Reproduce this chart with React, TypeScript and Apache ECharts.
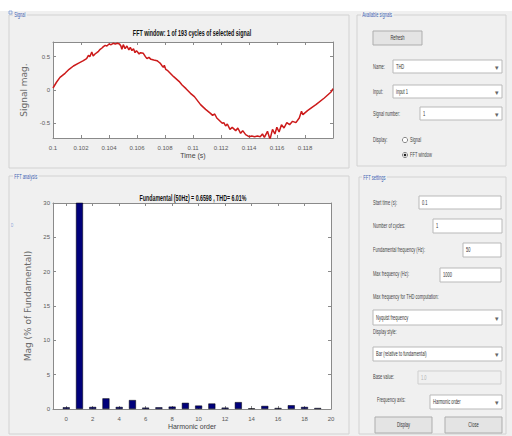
import React, { useEffect, useRef } from "react";
import * as echarts from "echarts";

// ---- data ----
const signalTime = [
  0.1, 0.10026, 0.1005, 0.10086, 0.10115, 0.10146, 0.1018, 0.10217, 0.1024, 0.10253,
  0.10263, 0.10277, 0.10287, 0.103, 0.10313, 0.10325, 0.10337, 0.1035, 0.1036, 0.10373,
  0.10385, 0.104, 0.10415, 0.1043, 0.10445, 0.1046, 0.10475, 0.10485, 0.10492, 0.10502,
  0.10515, 0.10528, 0.10542, 0.10552, 0.10564, 0.10575, 0.10586, 0.10596, 0.10604, 0.10615,
  0.10625, 0.10645, 0.1066, 0.10671, 0.10685, 0.107, 0.1072, 0.10743, 0.10755, 0.10767,
  0.1078, 0.10788, 0.10795, 0.10805, 0.1082, 0.10862, 0.109, 0.10922, 0.1095, 0.10982,
  0.1101, 0.11054, 0.1109, 0.11125, 0.1114, 0.11155, 0.1117, 0.11185, 0.11209, 0.1122,
  0.11233, 0.11245, 0.11264, 0.1128, 0.11305, 0.1132, 0.1134, 0.11355, 0.11376, 0.114,
  0.1142, 0.1144, 0.1146, 0.1148, 0.11496, 0.1151, 0.11532, 0.1155, 0.11568, 0.11585,
  0.11599, 0.11615, 0.11632, 0.1165, 0.1167, 0.1169, 0.11711, 0.11735, 0.11759, 0.11775,
  0.11785, 0.11818, 0.1185, 0.11878, 0.11938, 0.11986, 0.12,
];
const signalMag = [
  0.03, 0.12, 0.19, 0.25, 0.31, 0.36, 0.4, 0.44, 0.47, 0.52,
  0.5, 0.57, 0.51, 0.54, 0.56, 0.58, 0.61, 0.63, 0.65, 0.67,
  0.66, 0.69, 0.68, 0.7, 0.69, 0.7, 0.69, 0.66, 0.61, 0.68,
  0.62, 0.66, 0.6, 0.64, 0.59, 0.62, 0.56, 0.59, 0.57, 0.54,
  0.56, 0.55, 0.5, 0.47, 0.49, 0.46, 0.45, 0.44, 0.42, 0.4,
  0.36, 0.34, 0.37, 0.31, 0.29, 0.2, 0.13, 0.075, 0.02, -0.05,
  -0.1, -0.22, -0.29, -0.35, -0.38, -0.36, -0.42, -0.45, -0.5, -0.49,
  -0.54, -0.51, -0.59, -0.56, -0.61, -0.57, -0.65, -0.61, -0.67, -0.7,
  -0.69, -0.7, -0.69, -0.7, -0.66, -0.71, -0.62, -0.74, -0.59, -0.66,
  -0.56, -0.63, -0.52, -0.57, -0.49, -0.52, -0.47, -0.49, -0.42, -0.32,
  -0.37, -0.31, -0.26, -0.22, -0.12, -0.03, 0.02,
];
const harmonicOrder = [0, 1, 2, 3, 4, 5, 6, 7, 8, 9, 10, 11, 12, 13, 14, 15, 16, 17, 18, 19];
const harmonicMag = [0.25, 100, 0.3, 1.55, 0.3, 1.3, 0.2, 0.25, 0.35, 0.9, 0.5, 0.8, 0.2, 1.0, 0.1, 0.45, 0.15, 0.55, 0.3, 0.15];
const timeTicks = [0.1, 0.102, 0.104, 0.106, 0.108, 0.11, 0.112, 0.114, 0.116, 0.118, 0.12];
const timeLabels = [0.1, 0.102, 0.104, 0.106, 0.108, 0.11, 0.112, 0.114, 0.116, 0.118];
const signalTicks = [-0.5, 0, 0.5];
const harmonicTicks = [0, 2, 4, 6, 8, 10, 12, 14, 16, 18, 20];

const topTitle = "FFT window: 1 of 193 cycles of selected signal";
const bottomTitle = "Fundamental (50Hz) = 0.6598 , THD= 6.01%";

const SANS = "'Liberation Sans',Arial,sans-serif";
const AXIS_COLOR = "#8a8a8a";
const TICK_COLOR = "#5a5a5a";

function txt(x: number, y: number, text: string, o: any = {}) {
  const align = o.align ?? "left";
  return {
    type: "text",
    x,
    y,
    scaleX: o.scaleX ?? 0.62,
    z: 20,
    silent: true,
    style: {
      text,
      fontSize: o.size ?? 6.5,
      fontFamily: o.family ?? SANS,
      fontWeight: o.weight ?? "normal",
      fill: o.color ?? "#444",
      align,
      verticalAlign: "middle",
      textAlign: align,
      textVerticalAlign: "middle",
      backgroundColor: o.bg,
      padding: o.bg ? [0, 2] : undefined,
    },
  };
}
function box(x: number, y: number, w: number, h: number, o: any = {}) {
  return {
    type: "rect",
    z: 10,
    silent: true,
    shape: { x, y, width: w, height: h, r: o.r ?? 0 },
    style: { fill: o.fill ?? "#fff", stroke: o.stroke ?? "#b9b9b9", lineWidth: o.lw ?? 1 },
  };
}
function dropdown(x: number, y: number, w: number, h: number, value: string) {
  return [
    box(x, y, w, h),
    txt(x + 3, y + h / 2, value, { color: "#333" }),
    txt(x + w - 5, y + h / 2 + 0.5, "▾", { color: "#666", size: 7, scaleX: 1, align: "center" }),
  ];
}
function button(x: number, y: number, w: number, h: number, label: string) {
  return [
    box(x, y, w, h, { fill: "#e4e4e4", stroke: "#adadad" }),
    txt(x + w / 2, y + h / 2, label, { color: "#333", align: "center" }),
  ];
}

function buildGraphics() {
  const g: any[] = [];
  g.push({ type: "rect", z: 1, silent: true, shape: { x: 0, y: 0, width: 512, height: 11 }, style: { fill: "#fff" } });
  // panels
  g.push(box(9, 15, 340, 153, { fill: "transparent", stroke: "#d2d2d2" }));
  g.push(box(9, 176, 340, 258, { fill: "transparent", stroke: "#d2d2d2" }));
  g.push(box(357, 15, 149, 151, { fill: "transparent", stroke: "#d2d2d2" }));
  g.push(box(359, 177, 147, 257, { fill: "transparent", stroke: "#d2d2d2" }));
  g.push({ type: "rect", z: 21, silent: true, shape: { x: 9, y: 11, width: 3, height: 3 }, style: { fill: "none", stroke: "#6f8fd0", lineWidth: 0.7 } });
  g.push(txt(13, 15, "Signal", { color: "#3b5fb0", bg: "#f0f0f0" }));
  g.push(txt(13, 177, "FFT analysis", { color: "#3b5fb0", bg: "#f0f0f0" }));
  g.push(txt(361, 15, "Available signals", { color: "#3b5fb0", bg: "#f0f0f0" }));
  g.push(txt(362, 178, "FFT settings", { color: "#3b5fb0", bg: "#f0f0f0" }));
  g.push(txt(11, 225, "D", { color: "#8aa4d8", size: 5 }));

  // chart titles
  g.push(txt(192, 34, topTitle, { size: 8.5, weight: "bold", color: "#111", align: "center", scaleX: 0.63 }));
  g.push(txt(193, 198, bottomTitle, { size: 8.5, weight: "bold", color: "#111", align: "center", scaleX: 0.62 }));

  // Available signals
  g.push(...button(373, 31, 49, 14, "Refresh"));
  g.push(txt(373, 67, "Name:"));
  g.push(...dropdown(393, 60, 109, 13, "THD"));
  g.push(txt(373, 92, "Input:"));
  g.push(...dropdown(393, 85, 109, 13, "input 1"));
  g.push(txt(373, 114, "Signal number:"));
  g.push(...dropdown(420, 107, 82, 13, "1"));
  g.push(txt(373, 140, "Display:"));
  g.push({ type: "circle", z: 10, silent: true, shape: { cx: 405, cy: 140, r: 2.6 }, style: { fill: "#fff", stroke: "#888" } });
  g.push(txt(410, 140, "Signal"));
  g.push({ type: "circle", z: 10, silent: true, shape: { cx: 405, cy: 155, r: 2.6 }, style: { fill: "#fff", stroke: "#888" } });
  g.push({ type: "circle", z: 11, silent: true, shape: { cx: 405, cy: 155, r: 1.3 }, style: { fill: "#222" } });
  g.push(txt(410, 155, "FFT window"));

  // FFT settings
  g.push(txt(373, 203, "Start time (s):"));
  g.push(box(419, 196, 82, 13));
  g.push(txt(422, 202.5, "0.1", { color: "#333" }));
  g.push(txt(373, 226, "Number of cycles:"));
  g.push(box(433, 219, 69, 14));
  g.push(txt(436, 226, "1", { color: "#333" }));
  g.push(txt(373, 250, "Fundamental frequency (Hz):"));
  g.push(box(463, 243, 38, 14));
  g.push(txt(466, 250, "50", { color: "#333" }));
  g.push(txt(373, 274, "Max frequency (Hz):"));
  g.push(box(440, 268, 61, 14));
  g.push(txt(443, 275, "1000", { color: "#333" }));
  g.push(txt(373, 297, "Max frequency for THD computation:"));
  g.push(...dropdown(373, 310, 129, 15, "Nyquist frequency"));
  g.push(txt(373, 332, "Display style:"));
  g.push(...dropdown(373, 347, 129, 14, "Bar (relative to fundamental)"));
  g.push(txt(373, 377, "Base value:"));
  g.push(box(418, 371, 83, 13, { fill: "#f0f0f0", stroke: "#cfcfcf" }));
  g.push(txt(421, 377.5, "1.0", { color: "#b0b0b0" }));
  g.push(txt(377, 400, "Frequency axis:"));
  g.push(...dropdown(430, 395, 72, 14, "Harmonic order"));
  g.push(...button(375, 417, 57, 16, "Display"));
  g.push(...button(445, 417, 57, 16, "Close"));
  return g;
}

const tickLabel = { fontSize: 6, color: TICK_COLOR, fontFamily: SANS };
const nameStyle = { fontSize: 9, color: "#6a6a6a", fontFamily: "'DejaVu Sans',sans-serif" };
const xNameStyle = { fontSize: 7, color: "#444", fontFamily: SANS };

function buildOption(): any {
  const signalData = signalTime.map((t, i) => [t, signalMag[i]]);
  const barData = harmonicOrder.map((h, i) => [h, harmonicMag[i]]);
  const line = { show: true, onZero: false, lineStyle: { color: AXIS_COLOR, width: 1 } };
  return {
    animation: false,
    backgroundColor: "#f0f0f0",
    graphic: { elements: buildGraphics() },
    grid: [
      { left: 53, top: 42, width: 280, height: 96, show: true, backgroundColor: "#fff", borderWidth: 0 },
      { left: 53, top: 203, width: 278, height: 206, show: true, backgroundColor: "#fff", borderWidth: 0 },
    ],
    xAxis: [
      {
        type: "value", gridIndex: 0, min: 0.1, max: 0.12, position: "bottom",
        axisLine: line,
        axisTick: { inside: true, length: 3, customValues: timeTicks, lineStyle: { color: AXIS_COLOR } },
        axisLabel: { ...tickLabel, margin: 7, customValues: timeLabels, formatter: (v: number) => String(parseFloat(v.toFixed(3))) },
        splitLine: { show: false },
        name: "Time (s)", nameLocation: "middle", nameGap: 14, nameTextStyle: xNameStyle,
      },
      {
        type: "value", gridIndex: 0, min: 0.1, max: 0.12, position: "top",
        axisLine: line,
        axisTick: { inside: true, length: 3, customValues: timeTicks, lineStyle: { color: AXIS_COLOR } },
        axisLabel: { show: false }, splitLine: { show: false },
      },
      {
        type: "value", gridIndex: 1, min: -1, max: 20, position: "bottom",
        axisLine: line,
        axisTick: { inside: true, length: 3, customValues: harmonicTicks, lineStyle: { color: AXIS_COLOR } },
        axisLabel: { ...tickLabel, margin: 7, customValues: harmonicTicks },
        splitLine: { show: false },
        name: "Harmonic order", nameLocation: "middle", nameGap: 14, nameTextStyle: xNameStyle,
      },
      {
        type: "value", gridIndex: 1, min: -1, max: 20, position: "top",
        axisLine: line,
        axisTick: { inside: true, length: 3, customValues: harmonicTicks, lineStyle: { color: AXIS_COLOR } },
        axisLabel: { show: false }, splitLine: { show: false },
      },
    ],
    yAxis: [
      {
        type: "value", gridIndex: 0, min: -0.72, max: 0.72, position: "left",
        axisLine: line,
        axisTick: { inside: true, length: 3, customValues: signalTicks, lineStyle: { color: AXIS_COLOR } },
        axisLabel: { ...tickLabel, margin: 3, customValues: signalTicks },
        splitLine: { show: false },
        name: "Signal mag.", nameLocation: "middle", nameGap: 11, nameTextStyle: nameStyle,
      },
      {
        type: "value", gridIndex: 0, min: -0.72, max: 0.72, position: "right",
        axisLine: line,
        axisTick: { inside: true, length: 3, customValues: signalTicks, lineStyle: { color: AXIS_COLOR } },
        axisLabel: { show: false }, splitLine: { show: false },
      },
      {
        type: "value", gridIndex: 1, min: 0, max: 30, interval: 5, position: "left",
        axisLine: line,
        axisTick: { inside: true, length: 3, lineStyle: { color: AXIS_COLOR } },
        axisLabel: { ...tickLabel, margin: 3 },
        splitLine: { show: false },
        name: "Mag (% of Fundamental)", nameLocation: "middle", nameGap: 8, nameTextStyle: nameStyle,
      },
      {
        type: "value", gridIndex: 1, min: 0, max: 30, interval: 5, position: "right",
        axisLine: line,
        axisTick: { inside: true, length: 3, lineStyle: { color: AXIS_COLOR } },
        axisLabel: { show: false }, splitLine: { show: false },
      },
    ],
    series: [
      {
        type: "line", xAxisIndex: 0, yAxisIndex: 0, data: signalData,
        showSymbol: false, symbol: "none", clip: true,
        lineStyle: { color: "#cc1a1a", width: 1.5 },
      },
      {
        type: "bar", xAxisIndex: 2, yAxisIndex: 2, data: barData, barWidth: 7, clip: true,
        itemStyle: { color: "#00007a", borderColor: "#000", borderWidth: 0.5 },
      },
    ],
  };
}

export default function App() {
  const ref = useRef<HTMLDivElement>(null);
  useEffect(() => {
    if (!ref.current) return;
    const chart = echarts.init(ref.current, undefined, { renderer: "svg" });
    chart.setOption(buildOption());
    return () => chart.dispose();
  }, []);
  return (
    <div
      ref={ref}
      style={{ position: "absolute", left: 0, top: 0, width: 512, height: 436 }}
    />
  );
}
